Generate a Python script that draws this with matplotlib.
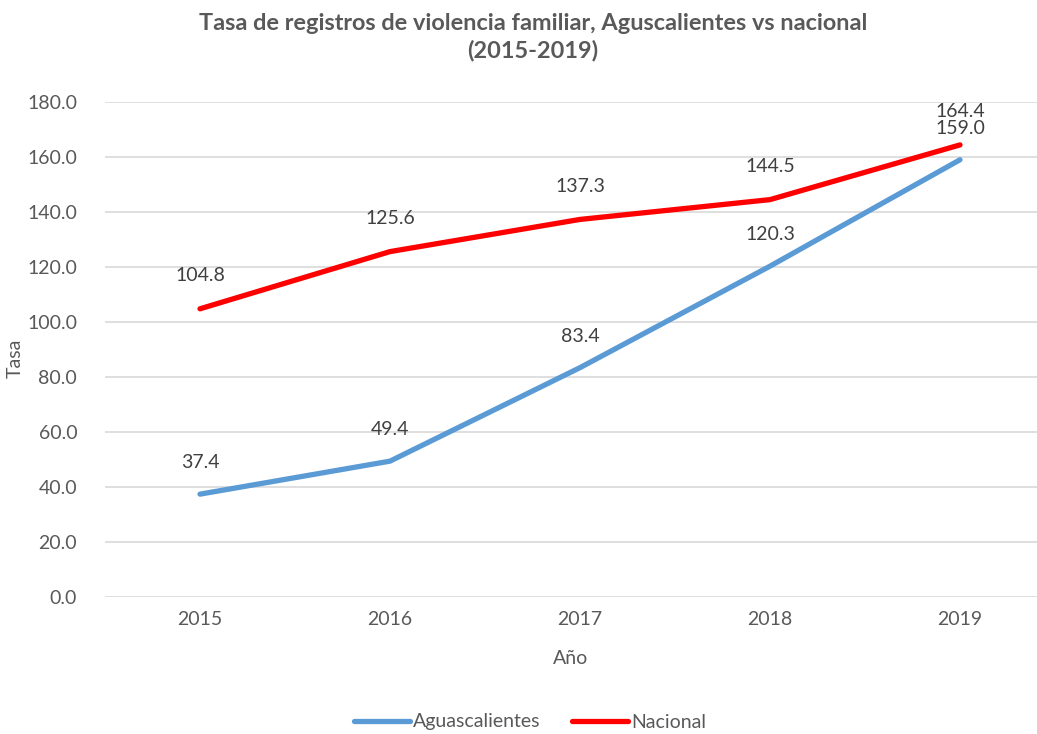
import matplotlib.pyplot as plt

plt.rcParams["font.family"] = ["Lato", "DejaVu Sans"]

years = ["2015", "2016", "2017", "2018", "2019"]
aguascalientes = [37.4, 49.4, 83.4, 120.3, 159.0]
nacional = [104.8, 125.6, 137.3, 144.5, 164.4]

GRAY = "#595959"
LABEL = "#404040"
FS = 14

fig = plt.figure(figsize=(10.37, 7.34), dpi=100)
ax = fig.add_axes([105 / 1037, 1 - 597 / 734, 1 - 105 / 1037, 495 / 734])

x = list(range(len(years)))
ax.plot(x, aguascalientes, color="#5B9BD5", lw=3.8, solid_capstyle="round", label="Aguascalientes")
ax.plot(x, nacional, color="#FF0000", lw=3.8, solid_capstyle="round", label="Nacional")

for xi, v in zip(x, aguascalientes):
    ax.annotate(f"{v:.1f}", (xi, v), xytext=(0, 22.5), textcoords="offset points",
                ha="center", va="center", fontsize=FS, color=LABEL)
for xi, v in zip(x, nacional):
    ax.annotate(f"{v:.1f}", (xi, v), xytext=(0, 23.8), textcoords="offset points",
                ha="center", va="center", fontsize=FS, color=LABEL)

ax.set_xlim(-0.5, (1037 - 200) / 190)
ax.set_ylim(0, 180)
ax.set_yticks(range(0, 181, 20))
ax.set_yticklabels([f"{t:.1f}" for t in range(0, 181, 20)])
ax.set_xticks(x)
ax.set_xticklabels(years)
ax.grid(axis="y", color="#D9D9D9", lw=1.2)
ax.set_axisbelow(True)
for s in ax.spines.values():
    s.set_visible(False)
ax.tick_params(length=0, labelsize=FS, labelcolor=GRAY)
ax.tick_params(axis="y", pad=20)
ax.tick_params(axis="x", pad=10)

ax.set_xlabel("Año", fontsize=FS, color=GRAY, labelpad=16)
fig.text(15 / 1037, 1 - 358 / 734, "Tasa", rotation=90, ha="center", va="center",
         fontsize=FS, color=GRAY)

fig.text(533 / 1037, 1 - 37 / 734,
         "Tasa de registros de violencia familiar, Aguscalientes vs nacional\n(2015-2019)",
         ha="center", va="center", fontsize=16.9, fontweight="bold", color=GRAY,
         linespacing=1.3)

fig.legend(loc="center", bbox_to_anchor=(530 / 1037, 1 - 722 / 734), ncol=2,
           frameon=False, fontsize=FS, labelcolor=GRAY, handlelength=2.9,
           handletextpad=0.15, columnspacing=1.6)

fig.savefig("out.png", dpi=100)
